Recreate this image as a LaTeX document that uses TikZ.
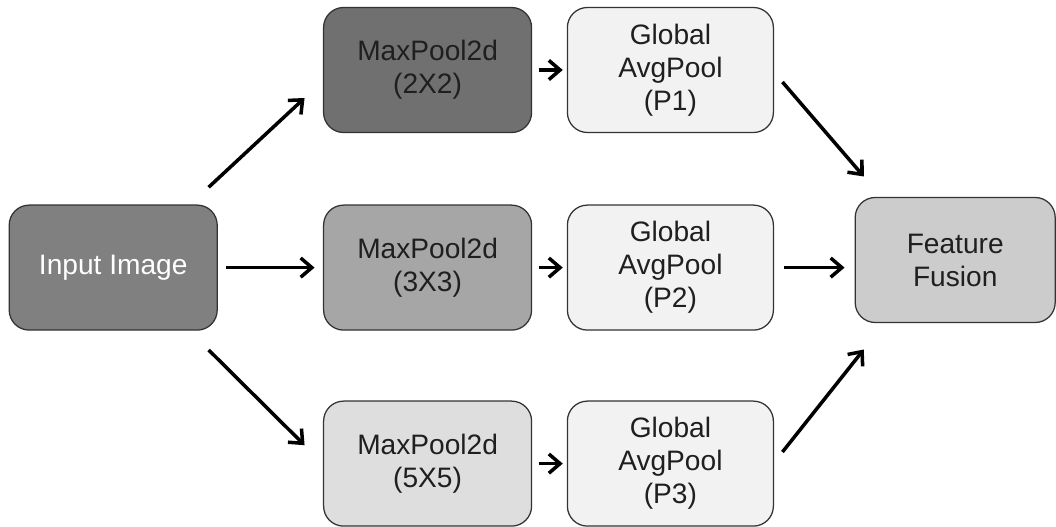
\documentclass[tikz,border=0pt]{standalone}
\usepackage{fontspec}
\setmainfont{Liberation Sans}
\usetikzlibrary{arrows.meta}

\definecolor{cInput}{RGB}{128,128,128}
\definecolor{cPoolA}{RGB}{112,112,112}
\definecolor{cPoolB}{RGB}{166,166,166}
\definecolor{cPoolC}{RGB}{222,222,222}
\definecolor{cGap}{RGB}{242,242,242}
\definecolor{cFusion}{RGB}{204,204,204}

\begin{document}
\begin{tikzpicture}[
    every node/.style={rectangle, rounded corners=0.5cm, draw=black!80, line width=0.9pt,
      minimum width=5.2cm, minimum height=3.125cm, align=center,
      font=\fontsize{20}{23.5}\selectfont}
]

\tikzset{
  pool/.style={fill=#1, text=black!88},
  flow/.style={-{Straight Barb[length=2.8mm,width=4.8mm]}, line width=2.5pt}
}

\useasboundingbox (0,0) rectangle (26.4,13.15);

% ================= Entree =================

\node[pool=cInput, text=white] (input) at (2.83,6.46) {Input Image};

% ================= MaxPool =================

\node[pool=cPoolA] (mp1) at (10.69,11.40) {MaxPool2d\\(2X2)};
\node[pool=cPoolB] (mp2) at (10.69,6.46)  {MaxPool2d\\(3X3)};
\node[pool=cPoolC] (mp3) at (10.69,1.56)  {MaxPool2d\\(5X5)};

% ================= Global AvgPool =================

\node[pool=cGap, minimum width=5.15cm] (gp1) at (16.76,11.40) {Global\\AvgPool\\(P1)};
\node[pool=cGap, minimum width=5.15cm] (gp2) at (16.76,6.46)  {Global\\AvgPool\\(P2)};
\node[pool=cGap, minimum width=5.15cm] (gp3) at (16.76,1.56)  {Global\\AvgPool\\(P3)};

% ================= Fusion =================

\node[pool=cFusion, minimum width=5cm] (fusion) at (23.88,6.65) {Feature\\Fusion};

% ================= Fleches =================

\draw[flow] ([shift={(-0.23,0.43)}]input.north east) -- ([shift={(-0.46,-0.7)}]mp1.west);
\draw[flow, shorten <=0.2cm, shorten >=0.21cm] (input.east) -- (mp2.west);
\draw[flow] ([shift={(-0.23,-0.48)}]input.south east) -- ([shift={(-0.46,0.46)}]mp3.west);

\foreach \i in {1,2,3}
  \draw[flow, shorten <=0.16cm, shorten >=0.1cm] (mp\i.east) -- (gp\i.west);

\draw[flow] ([shift={(0.21,-0.3)}]gp1.east) -- ([shift={(0.23,0.51)}]fusion.north west);
\draw[flow, shorten <=0.24cm, shorten >=0.25cm] (gp2.east) -- (gp2.east -| fusion.west);
\draw[flow] ([shift={(0.21,0.29)}]gp3.east) -- ([shift={(0.23,-0.66)}]fusion.south west);

\end{tikzpicture}
\end{document}
